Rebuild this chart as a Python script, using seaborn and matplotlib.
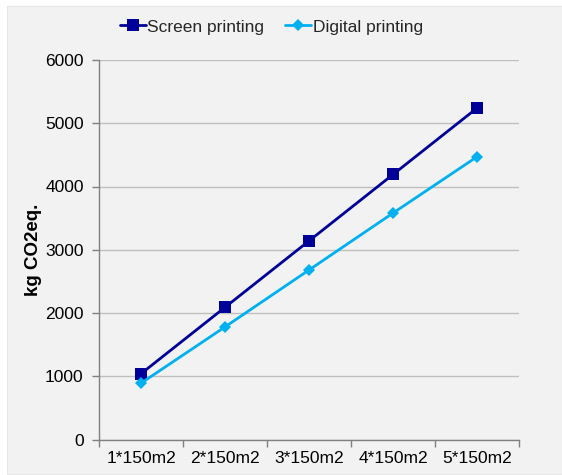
import matplotlib
matplotlib.use("Agg")
import matplotlib.pyplot as plt
import seaborn as sns
import pandas as pd
import numpy as np
from matplotlib.patches import Rectangle
from matplotlib.lines import Line2D

categories = ["1*150m2", "2*150m2", "3*150m2", "4*150m2", "5*150m2"]
screen = [1040, 2090, 3140, 4190, 5240]
digital = [890, 1780, 2680, 3580, 4470]
series_names = ["Screen printing", "Digital printing"]
yticks = [0, 1000, 2000, 3000, 4000, 5000, 6000]

df = pd.DataFrame({
    "cat": categories * 2,
    "value": screen + digital,
    "series": [series_names[0]] * len(categories) + [series_names[1]] * len(categories),
})

sns.set_theme(style="white")
plt.rcParams['font.family'] = ['Liberation Sans', 'DejaVu Sans']

fig = plt.figure(figsize=(5.62, 4.75), dpi=100)
fig.patch.set_facecolor("white")
fig.patches.append(Rectangle((7 / 562, 1 - 474 / 475), (562 - 7) / 562, (474 - 6) / 475,
                             transform=fig.transFigure, facecolor="#F2F2F2",
                             edgecolor="#E6E6E6", linewidth=0.8, zorder=-10))
ax = fig.add_axes([99 / 562, 1 - 439.5 / 475, 420 / 562, 379.5 / 475])
ax.set_facecolor("#F2F2F2")

colors = {series_names[0]: "#000099", series_names[1]: "#00B0F0"}
markers = {series_names[0]: "s", series_names[1]: "D"}
sns.lineplot(data=df, x="cat", y="value", hue="series", style="series",
             palette=colors, markers=markers, dashes=False, linewidth=2.0,
             markersize=8, markeredgewidth=0, ax=ax, legend=False, sort=False)
for ln in ax.lines:
    if ln.get_marker() == "D":
        ln.set_markersize(6)

ax.set_ylim(0, 6000)
ax.set_yticks(yticks)
ax.set_yticklabels([str(t) for t in yticks])
ax.set_xlim(-0.5, len(categories) - 0.5)
ax.set_xticks(range(len(categories)))
ax.set_xticklabels(categories)
ax.set_xticks(np.arange(-0.5, len(categories), 1.0), minor=True)
ax.tick_params(axis="x", which="major", length=0, pad=8, labelsize=12.5, colors="black")
ax.tick_params(axis="x", which="minor", length=5, width=1, color="#808080", bottom=True)
ax.tick_params(axis="y", length=5, width=1, color="#808080", left=True, labelsize=12.5, pad=6)
for lab in ax.get_xticklabels() + ax.get_yticklabels():
    lab.set_color("black")

ax.yaxis.grid(True, color="#BFBFBF", linewidth=1)
ax.xaxis.grid(False)
for s in ["top", "right"]:
    ax.spines[s].set_visible(False)
for s in ["left", "bottom"]:
    ax.spines[s].set_color("#808080")
    ax.spines[s].set_linewidth(1)

ax.set_xlabel("")
ax.set_ylabel("kg CO2eq.", fontsize=13.5, fontweight="bold", color="black")
ax.yaxis.set_label_coords(-0.135, 0.5)

handles = [Line2D([], [], color=colors[n], marker=markers[n], linewidth=2.0,
                  markersize=8 if markers[n] == "s" else 6, markeredgewidth=0)
           for n in series_names]
fig.legend(handles, series_names, loc="center", bbox_to_anchor=(0.483, 1 - 27 / 475),
           ncol=2, frameon=False, fontsize=12.5, handlelength=1.5, handletextpad=0.1,
           columnspacing=1.2)

fig.savefig("out.png", dpi=100, facecolor=fig.get_facecolor())
